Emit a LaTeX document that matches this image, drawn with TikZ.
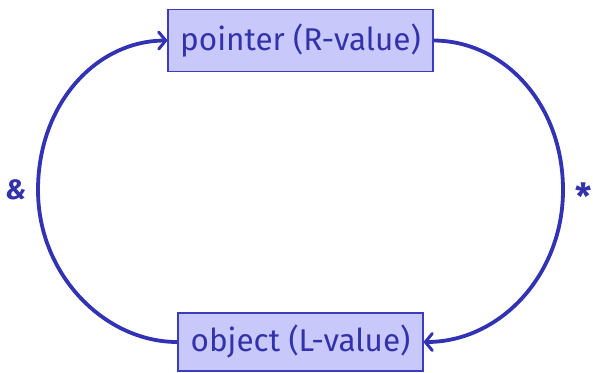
\documentclass[tikz,border=0pt]{standalone}
\usepackage{fontspec}
\setmainfont{Fira Sans}
\usetikzlibrary{arrows.meta}
\definecolor{bfill}{RGB}{200,200,250}
\definecolor{bdraw}{RGB}{60,60,190}
\definecolor{btext}{RGB}{50,50,170}
\definecolor{lcol}{RGB}{50,50,180}
\begin{document}
\begin{tikzpicture}[x=1pt,y=1pt,
  box/.style={draw=bdraw,fill=bfill,line width=1.6pt,text=btext,inner sep=0pt,
    font=\fontsize{31.5}{36}\selectfont},
  conn/.style={draw=lcol,line width=3.8pt,-{Straight Barb[length=7pt,width=17pt,line width=3pt,round]}},
  lbl/.style={text=btext,font=\fontsize{28}{32}\selectfont}]
\useasboundingbox (0,0) rectangle (593,-372);
\node[box,minimum width=265pt,minimum height=62pt] (ptr) at (300.5,-40.5) {pointer (R-value)};
\node[box,minimum width=245pt,minimum height=58pt] (obj) at (300.5,-342) {object (L-value)};
\draw[conn] (obj.west) .. controls (105,-342) and (38,-275) .. (38,-190)
  .. controls (38,-105) and (95,-41) .. (ptr.west);
\draw[conn] (ptr.east) .. controls (505,-41) and (563,-105) .. (563,-190)
  .. controls (563,-275) and (500,-342) .. (obj.east);
\node[lbl] (amp) at (16,-190) {\bfseries\itshape\&};
\node[lbl,font=\fontsize{36}{40}\selectfont\bfseries] (star) at (584,-196) {*};
\end{tikzpicture}
\end{document}
